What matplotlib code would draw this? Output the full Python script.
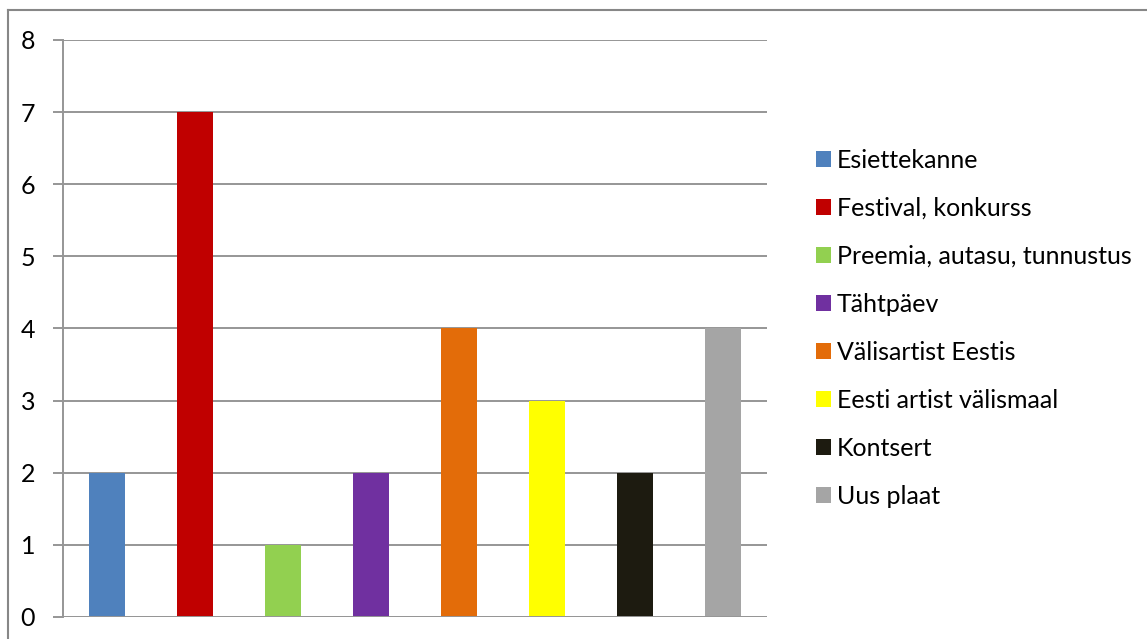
import matplotlib
matplotlib.use("Agg")
import matplotlib.pyplot as plt
from matplotlib.patches import Patch
from matplotlib.lines import Line2D

categories = ["Esiettekanne", "Festival, konkurss", "Preemia, autasu, tunnustus",
              "Tähtpäev", "Välisartist Eestis", "Eesti artist välismaal",
              "Kontsert", "Uus plaat"]
values = [2, 7, 1, 2, 4, 3, 2, 4]
colors = ["#4F81BD", "#C00000", "#92D050", "#7030A0", "#E36C09", "#FFFF00",
          "#1D1B10", "#A5A5A5"]
yticks = [0, 1, 2, 3, 4, 5, 6, 7, 8]

W, H = 1147, 639
fig = plt.figure(figsize=(W / 100, H / 100), dpi=100)
plt.rcParams['font.family'] = ['Lato', 'DejaVu Sans']

left, right, top, bottom = 63, 767, 40, 617
ax = fig.add_axes([left / W, 1 - bottom / H, (right - left) / W, (bottom - top) / H])

x = list(range(len(categories)))
ax.bar(x, values, width=0.41, color=colors, zorder=3)
ax.set_xlim(-0.5, len(categories) - 0.5)
ax.set_ylim(0, 8)
ax.set_yticks(yticks)
ax.set_yticklabels([str(t) for t in yticks], fontsize=18)
ax.set_xticks([])
grid_c = "#969696"
ax.yaxis.grid(True, color=grid_c, linewidth=1.4, zorder=0)
for s in ["top", "right", "bottom"]:
    ax.spines[s].set_visible(False)
ax.spines["left"].set_color(grid_c)
ax.spines["left"].set_linewidth(1.4)
ax.tick_params(axis="y", length=7, width=1.4, color=grid_c, pad=13)
ax.axhline(0, color=grid_c, linewidth=1.4, zorder=4)

handles = [Patch(facecolor=c, edgecolor="none") for c in colors]
fig.legend(handles, categories, loc="center left",
           bbox_to_anchor=(803 / W, 1 - 328 / H), frameon=False, fontsize=18,
           handlelength=0.6, handleheight=0.6, handletextpad=0.25,
           labelspacing=1.0, borderpad=0)

# outer frame (left and top visible)
fig.add_artist(Line2D([8 / W, 8 / W], [0, 1 - 10 / H], transform=fig.transFigure,
                      color="#878787", linewidth=1.5))
fig.add_artist(Line2D([8 / W, 1], [1 - 10 / H, 1 - 10 / H], transform=fig.transFigure,
                      color="#878787", linewidth=1.5))

fig.savefig("out.png", dpi=100)
